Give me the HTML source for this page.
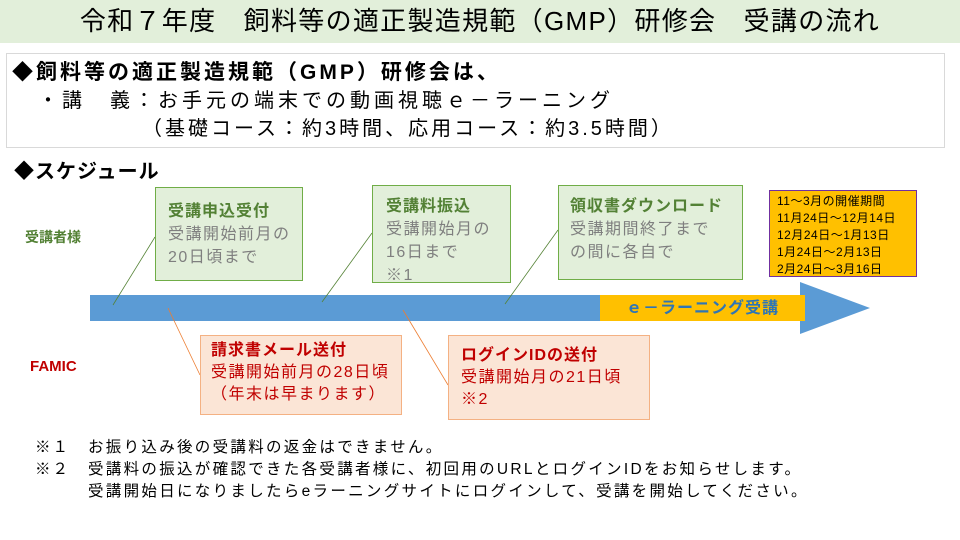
<!DOCTYPE html>
<html><head><meta charset="utf-8"><style>
*{margin:0;padding:0;box-sizing:border-box}
body{width:960px;height:540px;background:#fff;position:relative;overflow:hidden;font-family:"Liberation Sans","Noto Sans CJK JP",sans-serif;color:#000}
.a{position:absolute;white-space:nowrap}
.gb{position:absolute;background:#e2efda;border:1px solid #70ad47}
.rb{position:absolute;background:#fbe5d6;border:1px solid #f4b183}
.gt{color:#538135;font-weight:bold;font-size:16px;line-height:23px;letter-spacing:1px}
.gx{color:#7f7f7f;font-size:16px;line-height:23px;letter-spacing:1.5px}
.rt{color:#c00000;font-weight:bold;font-size:16px;line-height:23px;letter-spacing:1px}
.rx{color:#c00000;font-size:16px;line-height:22px;letter-spacing:1.5px}
</style></head><body>
<div class="a" style="left:0;top:0;width:960px;height:43px;background:#e2efda"></div>
<div class="a" style="left:0;top:4px;width:960px;text-align:center;font-size:26px;line-height:34px;letter-spacing:1.3px">令和７年度　飼料等の適正製造規範（GMP）研修会　受講の流れ</div>
<div class="a" style="left:6px;top:53px;width:939px;height:95px;border:1px solid #d9d9d9"></div>
<div class="a" style="left:12px;top:60px;font-size:21px;font-weight:bold;line-height:26px;letter-spacing:3px">◆飼料等の適正製造規範（GMP）研修会は、</div>
<div class="a" style="left:38px;top:88px;font-size:20px;line-height:26px;letter-spacing:4px">・講　義：お手元の端末での動画視聴ｅ－ラーニング</div>
<div class="a" style="left:142px;top:116px;font-size:20px;line-height:26px;letter-spacing:3px">（基礎コース：約3時間、応用コース：約3.5時間）</div>
<div class="a" style="left:14px;top:159px;font-size:20px;font-weight:bold;line-height:26px;letter-spacing:1px">◆スケジュール</div>
<div class="a" style="left:25px;top:227px;font-size:14px;font-weight:bold;color:#538135">受講者様</div>
<div class="a" style="left:30px;top:358px;font-size:15px;font-weight:bold;color:#c00000">FAMIC</div>
<svg class="a" style="left:0;top:0" width="960" height="540">
<polygon points="90,295 800,295 800,282 870,308 800,334 800,321 90,321" fill="#5b9bd5"/>
<rect x="600" y="295" width="205" height="26" fill="#ffc000"/>
<g stroke="#548235" stroke-width="0.8"><line x1="113" y1="305" x2="155" y2="237"/><line x1="322" y1="302" x2="372" y2="233"/><line x1="505" y1="304" x2="558" y2="230"/></g>
<g stroke="#ed7d31" stroke-width="0.8"><line x1="168" y1="308" x2="200" y2="375"/><line x1="403" y1="310" x2="448" y2="385"/></g>
</svg>
<div class="a" style="left:600px;top:299px;width:205px;text-align:center;font-size:16px;font-weight:bold;color:#2e75b6;line-height:20px;letter-spacing:1px">ｅ－ラーニング受講</div>
<div class="gb" style="left:155px;top:187px;width:148px;height:94px;padding:12px 0 0 12px"><div class="gt">受講申込受付</div><div class="gx">受講開始前月の<br>20日頃まで</div></div>
<div class="gb" style="left:372px;top:185px;width:139px;height:98px;padding:9px 0 0 13px"><div class="gt">受講料振込</div><div class="gx">受講開始月の<br>16日まで<br>※1</div></div>
<div class="gb" style="left:558px;top:185px;width:185px;height:95px;padding:9px 0 0 11px"><div class="gt">領収書ダウンロード</div><div class="gx">受講期間終了まで<br>の間に各自で</div></div>
<div class="a" style="left:769px;top:190px;width:148px;height:87px;background:#ffc000;border:1px solid #7030a0;padding:2px 0 0 7px;font-size:12px;line-height:17px;letter-spacing:0.5px">11～3月の開催期間<br>11月24日～12月14日<br>12月24日～1月13日<br>1月24日～2月13日<br>2月24日～3月16日</div>
<div class="rb" style="left:200px;top:335px;width:202px;height:80px;padding:3px 0 0 10px"><div class="rt">請求書メール送付</div><div class="rx">受講開始前月の28日頃<br>（年末は早まります）</div></div>
<div class="rb" style="left:448px;top:335px;width:202px;height:85px;padding:8px 0 0 12px"><div class="rt">ログインIDの送付</div><div class="rx">受講開始月の21日頃<br>※2</div></div>
<div class="a" style="left:35px;top:437px;font-size:15.5px;line-height:22px;letter-spacing:2px">※１<br>※２</div>
<div class="a" style="left:88px;top:437px;font-size:15.5px;line-height:22px;letter-spacing:2.3px">お振り込み後の受講料の返金はできません。<br>受講料の振込が確認できた各受講者様に、初回用のURLとログインIDをお知らせします。<br>受講開始日になりましたらeラーニングサイトにログインして、受講を開始してください。</div>
</body></html>
